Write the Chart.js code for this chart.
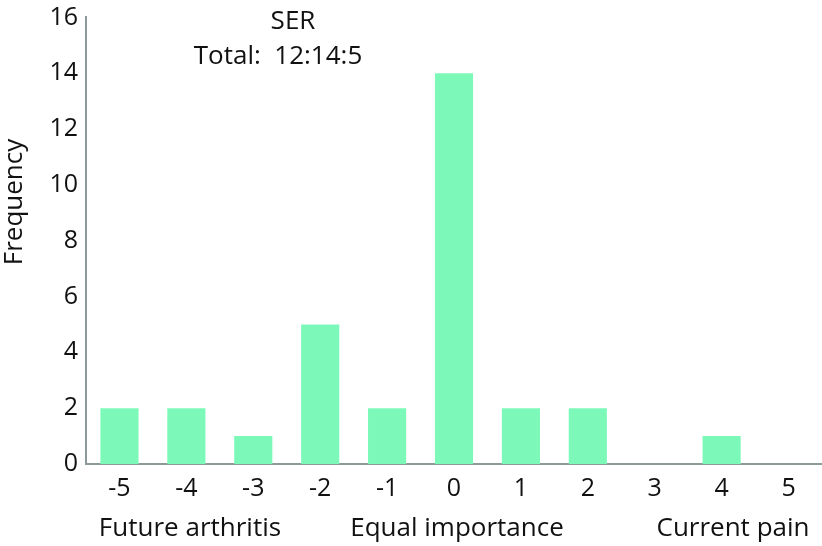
<!DOCTYPE html>
<html>
<head>
<meta charset="utf-8">
<script src="https://cdn.jsdelivr.net/npm/chart.js@4/dist/chart.umd.min.js"></script>
<style>
  html, body { margin: 0; padding: 0; background: #fff; }
  #wrap { width: 822px; height: 546px; }
</style>
</head>
<body>
<div id="wrap"><canvas id="myChart" width="822" height="546"></canvas></div>
<script>
const scores = ['-5', '-4', '-3', '-2', '-1', '0', '1', '2', '3', '4', '5'];
const frequency = [2, 2, 1, 5, 2, 14, 2, 2, 0, 1, 0];
const yTicks = [0, 2, 4, 6, 8, 10, 12, 14, 16];
const titleLines = ['SER', 'Total:  12:14:5'];
const bottomLabels = ['Future arthritis', 'Equal importance', 'Current pain'];

const FONT = "'Open Sans', 'DejaVu Sans', sans-serif";
const axisColor = '#8c9a9a';

// texte libre : titre, label Y et les 3 libellés du bas
const extraText = {
    id: 'extraText',
    afterDraw(chart) {
        const c = chart.ctx;
        const a = chart.chartArea;
        c.save();
        c.fillStyle = '#111';
        c.font = '26px ' + FONT;
        c.textAlign = 'center';
        c.textBaseline = 'middle';
        c.fillText(titleLines[0], a.left + 207, 22);
        c.fillText(titleLines[1], a.left + 192, 57);

        c.fillText(bottomLabels[0], 190, 529);
        c.fillText(bottomLabels[1], 457, 529);
        c.fillText(bottomLabels[2], 733, 529);

        c.translate(15, 202);
        c.rotate(-Math.PI / 2);
        c.fillText('Frequency', 0, 0);
        c.restore();
    }
};

new Chart(document.getElementById('myChart').getContext('2d'), {
    type: 'bar',
    data: {
        labels: scores,
        datasets: [{
            data: frequency,
            backgroundColor: '#7cf9b9',
            borderWidth: 0,
            barPercentage: 0.57,
            categoryPercentage: 1
        }]
    },
    options: {
        responsive: false,
        animation: false,
        layout: { padding: 0 },
        plugins: { legend: { display: false }, tooltip: { enabled: false } },
        scales: {
            x: {
                grid: { display: false, drawTicks: false },
                border: { display: true, color: axisColor, width: 2 },
                ticks: { color: '#111', font: { family: FONT, size: 25 }, padding: 10 },
                afterFit(s) { s.height = 82; }
            },
            y: {
                min: 0,
                max: 16,
                afterBuildTicks(s) { s.ticks = yTicks.map(v => ({ value: v })); },
                grid: { display: false, drawTicks: false },
                border: { display: true, color: axisColor, width: 2 },
                ticks: { color: '#111', font: { family: FONT, size: 25, lineHeight: 0.75 }, padding: 8 },
                afterFit(s) { s.width = 86; }
            }
        }
    },
    plugins: [extraText]
});
</script>
</body>
</html>
